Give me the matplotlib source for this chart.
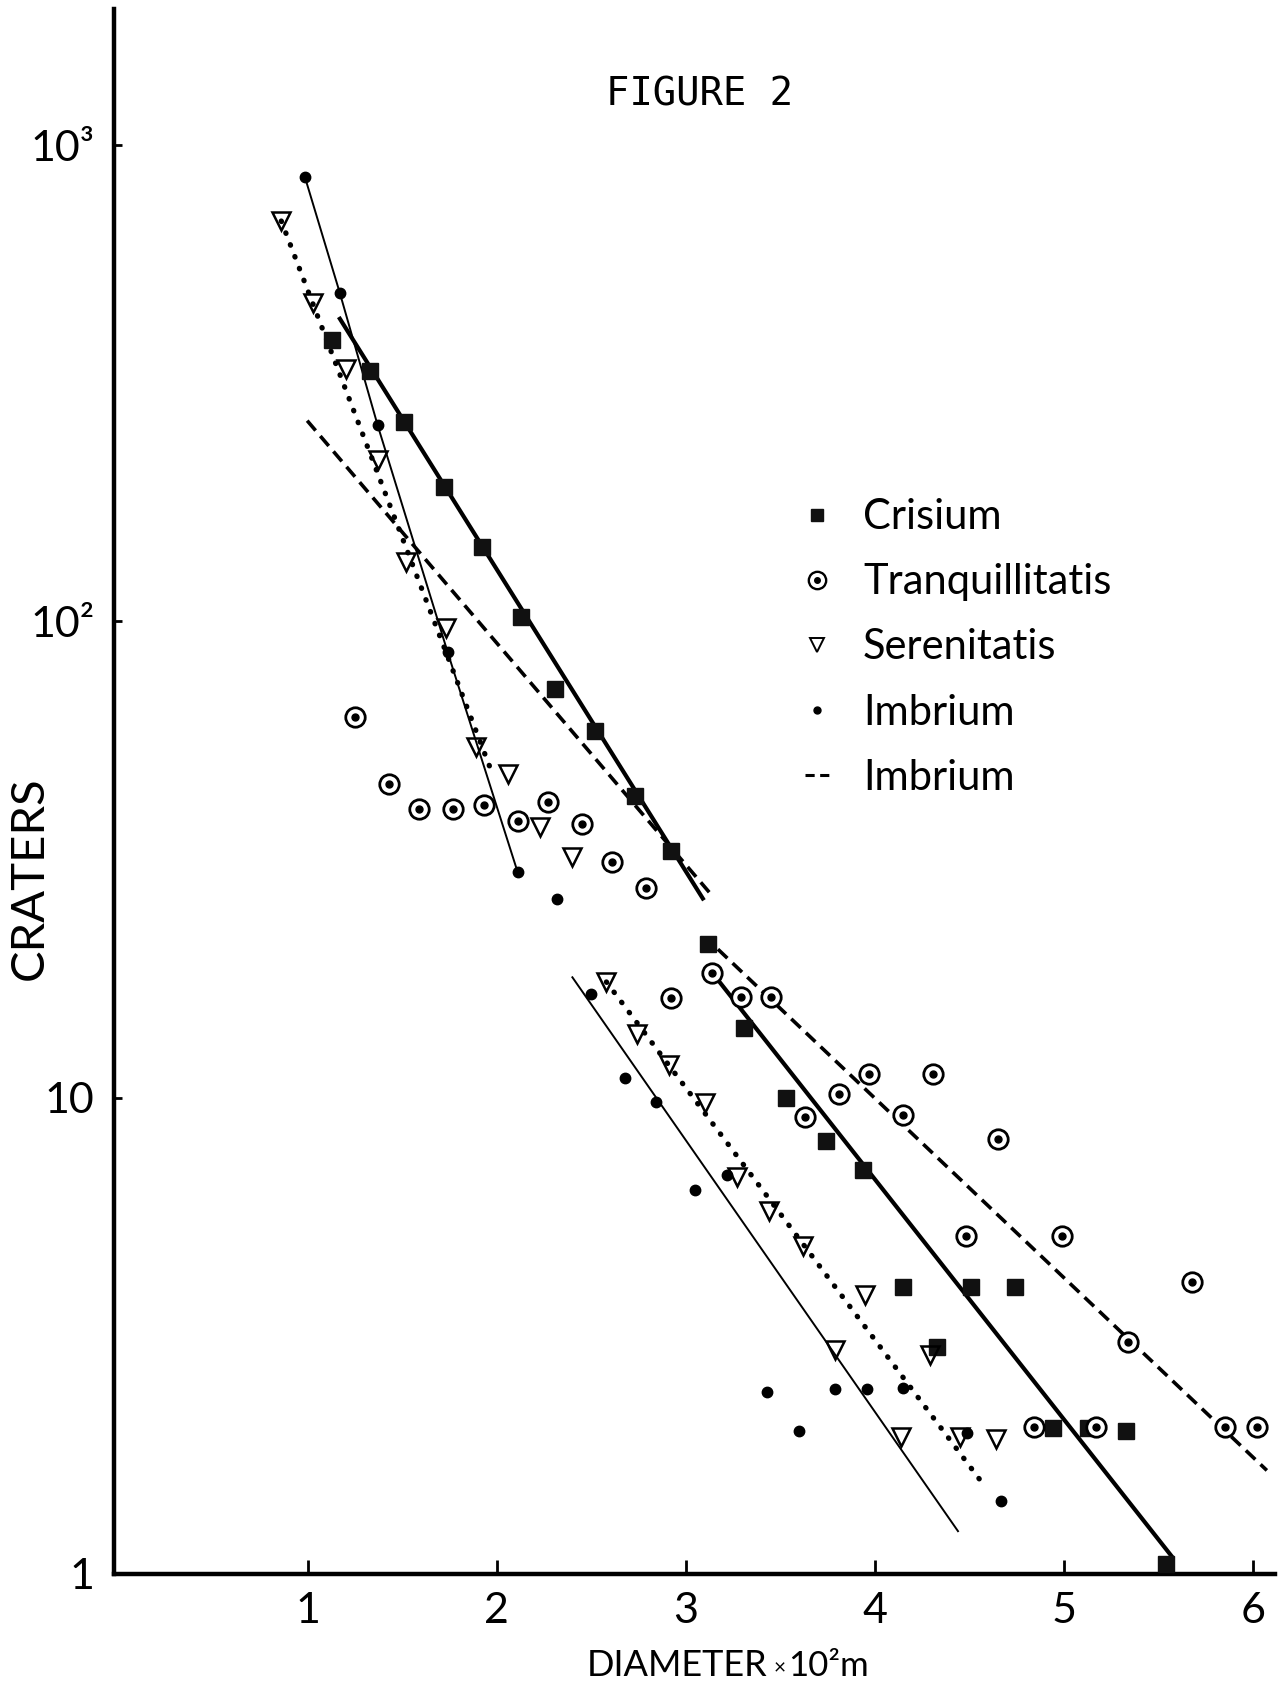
import numpy as np
import matplotlib.pyplot as plt
from matplotlib.lines import Line2D
from matplotlib.legend_handler import HandlerTuple
from matplotlib.ticker import FixedLocator, FixedFormatter, NullLocator

# crater counts vs diameter (x10^2 m) for the four maria
crisium_d = [1.13, 1.33, 1.51, 1.72, 1.92, 2.13, 2.31, 2.52, 2.73, 2.92,
             3.12, 3.31, 3.53, 3.74, 3.94, 4.15, 4.33, 4.51, 4.74, 4.94, 5.13, 5.33, 5.54]
crisium_n = [390, 335, 262, 192, 143, 102, 72, 59, 43, 33,
             21, 14, 10, 8.1, 7.05, 4.0, 3.0, 4.0, 4.0, 2.03, 2.03, 2.0, 1.05]

tranq_d = [1.25, 1.43, 1.59, 1.77, 1.93, 2.11, 2.27, 2.45, 2.61, 2.79,
           2.92, 3.14, 3.29, 3.45, 3.63, 3.81, 3.97, 4.15, 4.31, 4.48, 4.65,
           4.84, 4.99, 5.17, 5.34, 5.68, 5.85, 6.02]
tranq_n = [62.9, 45.6, 40.4, 40.4, 41.1, 38.2, 41.8, 37.6, 31.3, 27.6,
           16.2, 18.3, 16.3, 16.3, 9.1, 10.2, 11.2, 9.2, 11.2, 5.12, 8.2,
           2.04, 5.12, 2.04, 3.07, 4.11, 2.04, 2.04]

seren_d = [0.86, 1.03, 1.20, 1.37, 1.52, 1.73, 1.89, 2.06, 2.23, 2.40,
           2.58, 2.74, 2.91, 3.10, 3.27, 3.44, 3.62, 3.79, 3.95, 4.14, 4.29, 4.45, 4.64]
seren_n = [693, 466, 339, 218, 133, 97, 54.5, 47.9, 37, 32,
           17.5, 13.6, 11.7, 9.75, 6.8, 5.77, 4.88, 2.95, 3.85, 1.94, 2.88, 1.94, 1.92]

imbr_d = [0.985, 1.17, 1.37, 1.74, 2.11, 2.32,
          2.50, 2.68, 2.84, 3.05, 3.22, 3.43, 3.60, 3.79, 3.96, 4.15, 4.49, 4.67]
imbr_n = [857, 489, 258, 86.2, 29.8, 26.1,
          16.5, 11.0, 9.8, 6.4, 6.87, 2.41, 2.0, 2.45, 2.45, 2.46, 1.98, 1.42]

# fitted lines, end points (diameter, count)
imbr_upper_d, imbr_upper_n = imbr_d[:5], imbr_n[:5]
seren_fit_up_d, seren_fit_up_n = [0.86, 1.963], [693, 49.5]
crisium_fit_up_d, crisium_fit_up_n = [1.17, 3.09], [432, 26.2]
dash_fit_up_d, dash_fit_up_n = [0.997, 3.145], [264, 26.4]
thin_fit_lo_d, thin_fit_lo_n = [2.40, 4.44], [17.9, 1.23]
seren_fit_lo_d, seren_fit_lo_n = [2.58, 4.57], [17.5, 1.55]
crisium_fit_lo_d, crisium_fit_lo_n = [3.14, 5.57], [18.3, 1.09]
dash_fit_lo_d, dash_fit_lo_n = [3.17, 6.074], [20.5, 1.65]

x_ticks = [1, 2, 3, 4, 5, 6]
y_ticks = [1, 10, 100, 1000]
y_tick_labels = ['1', '10', '10²', '10³']

plt.rcParams['font.family'] = ['Lato', 'DejaVu Sans']

fig = plt.figure(figsize=(12.81, 16.93), dpi=100)
ax = fig.add_axes([0.089, 0.0703, 0.9063, 0.9244])
ax.set_yscale('log')
ax.set_xlim(-0.025, 6.117)
ax.set_ylim(1, 1932)

dotted = (0, (0.1, 2.3))
dashed = (0, (3.6, 2.0))

# fit lines
ax.plot(imbr_upper_d, imbr_upper_n, '-', color='k', lw=1.4, zorder=2)
ax.plot(thin_fit_lo_d, thin_fit_lo_n, '-', color='k', lw=1.4, zorder=2)
ax.plot(crisium_fit_up_d, crisium_fit_up_n, '-', color='k', lw=3.0, zorder=2)
ax.plot(crisium_fit_lo_d, crisium_fit_lo_n, '-', color='k', lw=3.0, zorder=2)
for d, n in [(seren_fit_up_d, seren_fit_up_n), (seren_fit_lo_d, seren_fit_lo_n)]:
    ax.plot(d, n, color='k', lw=3.8, ls=dotted, dash_capstyle='round', zorder=2)
for d, n in [(dash_fit_up_d, dash_fit_up_n), (dash_fit_lo_d, dash_fit_lo_n)]:
    ax.plot(d, n, color='k', lw=2.6, ls=dashed, zorder=2)

# data points
ax.plot(crisium_d, crisium_n, 's', color='#111111', ms=12, zorder=3)
ax.plot(tranq_d, tranq_n, 'o', mfc='white', mec='k', mew=2.0, ms=14, zorder=3)
ax.plot(tranq_d, tranq_n, 'o', color='k', ms=5, zorder=4)
ax.plot(seren_d, seren_n, 'v', mfc='none', mec='k', mew=1.8, ms=13.5, zorder=3)
ax.plot(imbr_d, imbr_n, 'o', color='k', ms=7.5, zorder=4)

# axes styling
for s in ['top', 'right']:
    ax.spines[s].set_visible(False)
for s in ['left', 'bottom']:
    ax.spines[s].set_linewidth(3.2)
ax.xaxis.set_major_locator(FixedLocator(x_ticks))
ax.yaxis.set_major_locator(FixedLocator(y_ticks))
ax.yaxis.set_major_formatter(FixedFormatter(y_tick_labels))
ax.yaxis.set_minor_locator(NullLocator())
ax.tick_params(axis='x', direction='in', length=10, width=2, pad=13, labelsize=31)
ax.tick_params(axis='y', direction='in', length=6, width=2, pad=14, labelsize=31)

# legend
h_cr = Line2D([], [], ls='none', marker='s', ms=8, color='#111111')
h_tr = (Line2D([], [], ls='none', marker='o', ms=12.5, mfc='white', mec='k', mew=1.7),
        Line2D([], [], ls='none', marker='o', ms=4, color='k'))
h_se = Line2D([], [], ls='none', marker='v', ms=10, mfc='none', mec='k', mew=1.4)
h_im = Line2D([], [], ls='none', marker='o', ms=5, color='k')
h_da = Line2D([], [], color='k', lw=2.2, ls=(0, (3.0, 1.8)))
ax.legend([h_cr, h_tr, h_se, h_im, h_da],
          ['Crisium', 'Tranquillitatis', 'Serenitatis', 'Imbrium', 'Imbrium'],
          handler_map={tuple: HandlerTuple(ndivide=1, pad=0)},
          loc='center left', bbox_to_anchor=(0.577, 0.592), frameon=False,
          fontsize=30, borderpad=0, handlelength=0.6, handletextpad=0.8,
          labelspacing=0.65)

fig.text(0.546, 0.944, 'FIGURE 2', family='DejaVu Sans Mono', fontsize=28,
         ha='center', va='center')
fig.text(0.4577, 0.0160, 'DIAMETER', fontsize=26, ha='left', va='center')
fig.text(0.6090, 0.0147, '×', fontsize=15, ha='center', va='center')
fig.text(0.6150, 0.0160, '10²m', fontsize=25, ha='left', va='center')
fig.text(0.0234, 0.481, 'CRATERS', fontsize=34, rotation=90, ha='center', va='center')

fig.savefig('out.png', dpi=100, facecolor='white')
